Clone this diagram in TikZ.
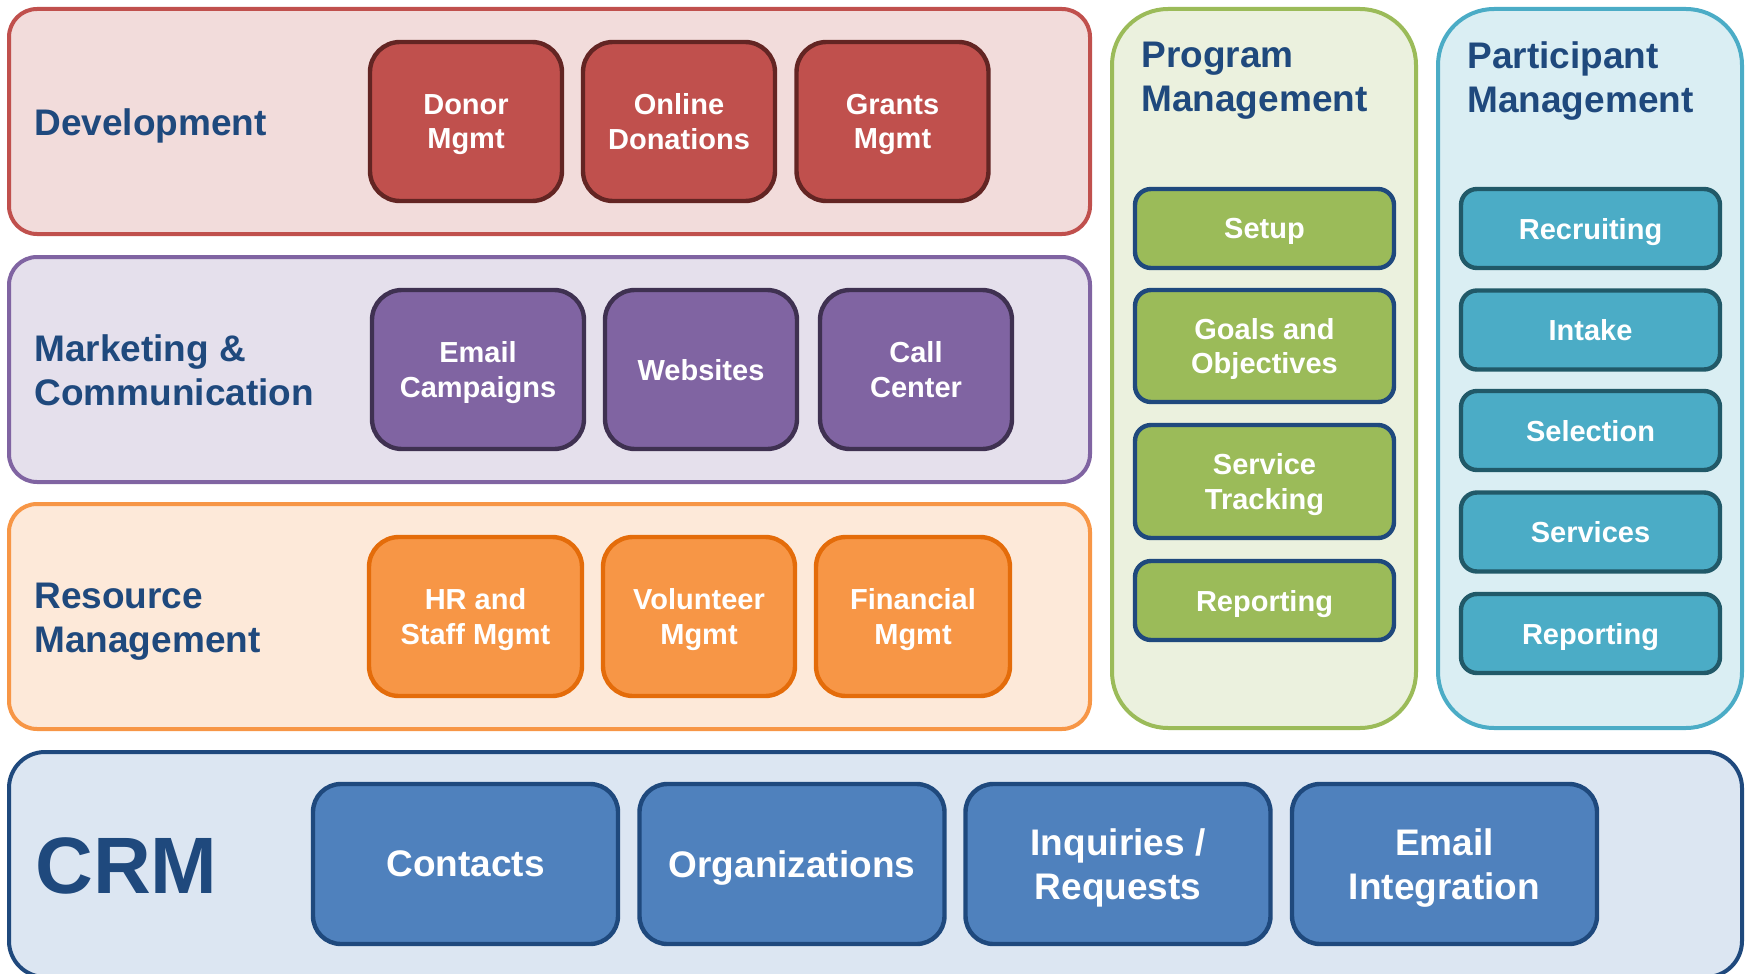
\documentclass[tikz,border=0pt]{standalone}
\usepackage{fontspec}
\setmainfont{Liberation Sans}
\definecolor{titleblue}{HTML}{1F497D}
\definecolor{devbg}{HTML}{F2DCDB}\definecolor{devln}{HTML}{C0504D}\definecolor{devdk}{HTML}{632523}
\definecolor{mktbg}{HTML}{E5E0EC}\definecolor{mktln}{HTML}{8064A2}\definecolor{mktdk}{HTML}{3F3151}
\definecolor{resbg}{HTML}{FDE9D9}\definecolor{resln}{HTML}{F79646}\definecolor{resdk}{HTML}{E46C0A}
\definecolor{prgbg}{HTML}{EBF1DE}\definecolor{prgln}{HTML}{9BBB59}
\definecolor{parbg}{HTML}{DAEEF3}\definecolor{parln}{HTML}{4BACC6}\definecolor{pardk}{HTML}{215968}
\definecolor{crmbg}{HTML}{DCE6F2}\definecolor{crmit}{HTML}{4F81BD}
\newcommand{\itemfont}{\fontsize{14.5}{17.3}\selectfont\bfseries}
\newcommand{\crmfont}{\fontsize{18.5}{22.3}\selectfont\bfseries}
\newcommand{\titlefont}{\fontsize{18.5}{21.8}\selectfont\bfseries}
\begin{document}
\begin{tikzpicture}[x=0.5pt,y=-0.5pt,
  secbox/.style 2 args={draw=#1, fill=#2, line width=2pt, rounded corners=14pt, inner sep=0pt, rectangle},
  item/.style 2 args={draw=#1, fill=#2, line width=2.2pt, rounded corners=15pt, text=white, font=\itemfont, align=center, inner sep=0pt, rectangle, text depth=0pt},
  sideitem/.style 2 args={item={#1}{#2}, rounded corners=8pt, minimum width=129.5pt},
  crmitem/.style={item={titleblue}{crmit}, font=\crmfont, rounded corners=14pt, minimum width=152.5pt, minimum height=80pt},
  title/.style={text=titleblue, font=\titlefont, align=left, inner sep=0pt, text depth=0pt},
]
\useasboundingbox (0,0) rectangle (1751,974);
\clip (0,0) rectangle (1751,974);
% sections
\node[secbox={devln}{devbg}, minimum width=540.5pt, minimum height=112.5pt] (dev) at (549.5,121.5) {};
\node[secbox={mktln}{mktbg}, minimum width=540.5pt, minimum height=112.5pt] (mkt) at (549.5,369.5) {};
\node[secbox={resln}{resbg}, minimum width=540.5pt, minimum height=112.5pt] (res) at (549.5,616.5) {};
\node[secbox={prgln}{prgbg}, rounded corners=28pt, minimum width=152pt, minimum height=359.5pt] (prg) at (1264,368.5) {};
\node[secbox={parln}{parbg}, rounded corners=28pt, minimum width=152pt, minimum height=359.5pt] (par) at (1590,368.5) {};
\node[secbox={titleblue}{crmbg}, rounded corners=18pt, minimum width=866.5pt, minimum height=112.5pt] (crm) at (875.5,864.5) {};
% titles
\node[title, anchor=west] (devt) at (34,122) {Development};
\node[title, anchor=west] (mktt) at (34,370) {Marketing \&\\Communication};
\node[title, anchor=west] (rest) at (34,618) {Resource\\Management};
\node[title, anchor=west] (prgt) at (1141,77) {Program\\Management};
\node[title, anchor=west] (part) at (1467,77) {Participant\\Management};
\node[text=titleblue, font=\fontsize{40}{44}\selectfont\bfseries, anchor=west, inner sep=0pt, text depth=0pt] (crmt) at (35,866) {CRM};
% development items
\node[item={devdk}{devln}, minimum width=96pt, minimum height=79.5pt] (donor) at (466,121.5) {Donor\\Mgmt};
\node[item={devdk}{devln}, minimum width=96pt, minimum height=79.5pt] (online) at (679,121.5) {Online\\Donations};
\node[item={devdk}{devln}, minimum width=96pt, minimum height=79.5pt] (grants) at (892.5,121.5) {Grants\\Mgmt};
% marketing items
\node[item={mktdk}{mktln}, minimum width=106pt, minimum height=79.5pt] (email) at (478,369.5) {Email\\Campaigns};
\node[item={mktdk}{mktln}, minimum width=96pt, minimum height=79.5pt] (web) at (701,369.5) {Websites};
\node[item={mktdk}{mktln}, minimum width=96pt, minimum height=79.5pt] (call) at (916,369.5) {Call\\Center};
% resource items
\node[item={resdk}{resln}, minimum width=106.5pt, minimum height=79.5pt] (hr) at (475.5,616.5) {HR and\\Staff Mgmt};
\node[item={resdk}{resln}, minimum width=96pt, minimum height=79.5pt] (vol) at (699,616.5) {Volunteer\\Mgmt};
\node[item={resdk}{resln}, minimum width=97pt, minimum height=79.5pt] (fin) at (913,616.5) {Financial\\Mgmt};
% program items
\node[sideitem={titleblue}{prgln}, minimum height=39.5pt] (setup) at (1264.5,228.5) {Setup};
\node[sideitem={titleblue}{prgln}, minimum height=56pt] (goals) at (1264.5,346) {Goals and\\Objectives};
\node[sideitem={titleblue}{prgln}, minimum height=56.5pt] (serv) at (1264.5,481.5) {Service\\Tracking};
\node[sideitem={titleblue}{prgln}, minimum height=39.5pt] (prep) at (1264.5,600.5) {Reporting};
% participant items
\node[sideitem={pardk}{parln}, minimum height=39.5pt] (recr) at (1590.5,228.5) {Recruiting};
\node[sideitem={pardk}{parln}, minimum height=39.5pt] (intake) at (1590.5,330) {Intake};
\node[sideitem={pardk}{parln}, minimum height=39.5pt] (sel) at (1590.5,430.5) {Selection};
\node[sideitem={pardk}{parln}, minimum height=39.5pt] (svcs) at (1590.5,532) {Services};
\node[sideitem={pardk}{parln}, minimum height=39.5pt] (parrep) at (1590.5,633.5) {Reporting};
% crm items
\node[crmitem] (contacts) at (465.5,864) {Contacts};
\node[crmitem] (orgs) at (792,864) {Organizations};
\node[crmitem] (inq) at (1118,864) {Inquiries /\\Requests};
\node[crmitem] (emi) at (1444.5,864) {Email\\Integration};
\end{tikzpicture}
\end{document}
